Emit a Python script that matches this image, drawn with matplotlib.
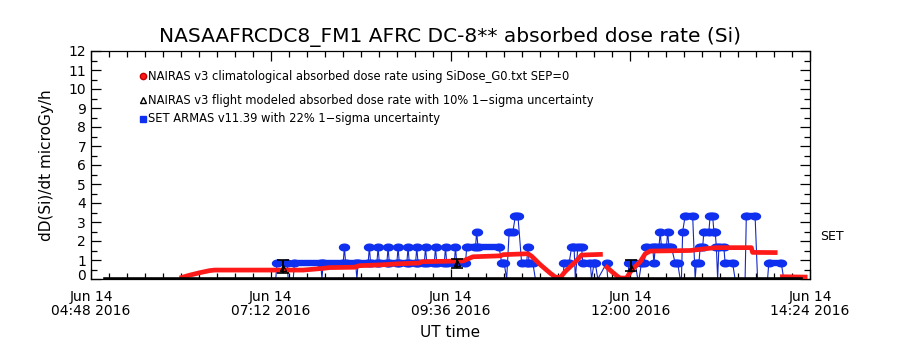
import matplotlib
matplotlib.use("Agg")
import matplotlib.pyplot as plt
import matplotlib.dates as mdates
import matplotlib.ticker as mticker
import matplotlib.transforms as mtransforms
import numpy as np
import pandas as pd

DAY = "2016-06-14 "
nan = np.nan

# ---------------- data ----------------
title = "NASAAFRCDC8_FM1 AFRC DC-8** absorbed dose rate (Si)"
legend_labels = [
    "NAIRAS v3 climatological absorbed dose rate using SiDose_G0.txt SEP=0",
    "NAIRAS v3 flight modeled absorbed dose rate with 10% 1\u2212sigma uncertainty",
    "SET ARMAS v11.39 with 22% 1\u2212sigma uncertainty",
]
xtick_times = ["04:48", "07:12", "09:36", "12:00", "14:24"]
y_ticks = list(range(0, 13))

# NAIRAS climatological (red)
red_times = ["05:59", "06:07", "06:15", "06:23", "06:27", "07:38", "07:54", "07:59",
             "08:19", "08:23", "08:42", "08:54", "09:11", "09:13", "09:46", "09:54",
             "10:16", "10:18", "10:38", "10:41", "10:48", "10:56", "11:00", "11:04",
             "11:08", "11:16", "11:21", "11:38", "11:39", "11:40", "11:45", "11:50",
             "11:52", "11:57", "12:01", "12:08", "12:12", "12:16", "12:48", "13:01",
             "13:09", "13:37", "13:38", "13:58", "13:59", "14:00", "14:22"]
red_vals = [0.05, 0.2, 0.33, 0.44, 0.47, 0.47, 0.56, 0.6,
            0.62, 0.7, 0.75, 0.8, 0.84, 0.91, 0.95, 1.17,
            1.22, 1.28, 1.33, 1.2, 0.75, 0.3, 0.1, 0.08,
            0.4, 0.9, 1.26, 1.3, nan, 0.7, 0.4, 0.13,
            0.05, 0.05, 0.47, 0.91, 1.33, 1.47, 1.5, 1.6,
            1.65, 1.65, 1.4, 1.39, nan, 0.12, 0.1]

# NAIRAS flight modeled (black) baseline and points with uncertainty bars
black_times = ["04:59", "14:17"]
black_vals = [0.0, 0.0]
err_times = ["07:22", "09:41", "12:01"]
err_vals = [0.6, 0.85, 0.6]
err_low = [0.33, 0.6, 0.4]
err_high = [1.0, 1.05, 1.0]

# SET ARMAS (blue)
blue_times = [
    "07:10", "07:16", "07:17", "07:25", "07:26", "07:30", "07:31", "07:52", "07:53", "07:54",
    "08:10", "08:11", "08:12", "08:20", "08:21", "08:22",
    "08:30", "08:31", "08:32", "08:37", "08:38", "08:39", "08:45", "08:46", "08:47",
    "08:53", "08:54", "08:55", "09:01", "09:02", "09:03", "09:08", "09:09", "09:10",
    "09:15", "09:16", "09:17", "09:23", "09:24", "09:25", "09:31", "09:32", "09:33",
    "09:39", "09:40", "09:41", "09:48", "09:49", "09:56", "09:57", "09:58", "10:15",
    "10:17", "10:19", "10:21", "10:23", "10:26", "10:28", "10:30", "10:33", "10:37",
    "10:38", "10:39", "10:42", "10:44",
    "11:06", "11:07", "11:11", "11:13", "11:15", "11:16", "11:18", "11:21", "11:22",
    "11:28", "11:29", "11:31", "11:32", "11:34", "11:41", "11:42",
    "11:58", "11:59", "12:04", "12:06", "12:07", "12:09", "12:11", "12:13", "12:18",
    "12:19", "12:20", "12:23", "12:24", "12:25", "12:29", "12:30", "12:31", "12:33",
    "12:36", "12:38", "12:40", "12:41", "12:42", "12:44", "12:50", "12:52", "12:53",
    "12:55", "12:56", "12:58", "12:59", "13:03", "13:04", "13:06", "13:07", "13:08",
    "13:09", "13:10", "13:11", "13:15", "13:16", "13:22", "13:24",
    "13:32", "13:33", "13:40", "13:42", "13:50", "13:51", "14:01", "14:03", "14:20"]
blue_vals = [
    0, 0, 0.83, 0.83, 0, 0, 0.83, 0.83, 0, 0.83,
    0.83, 1.67, 0.83, 0.83, 0, 0.83,
    0.83, 1.67, 0.83, 0.83, 1.67, 0.83, 0.83, 1.67, 0.83,
    0.83, 1.67, 0.83, 0.83, 1.67, 0.83, 0.83, 1.67, 0.83,
    0.83, 1.67, 0.83, 0.83, 1.67, 0.83, 0.83, 1.67, 0.83,
    0.83, 1.67, 0.83, 0.83, 1.67, 1.67, 2.5, 1.67, 1.67,
    0.83, 0.83, 0, 2.5, 2.5, 3.33, 3.33, 0.83, 0.83,
    1.67, 0.83, 0.83, 0,
    0, 0.83, 0.83, 1.67, 1.67, 0, 1.67, 1.67, 0.83,
    0.83, 0, 0.83, 0.83, 0, 0.83, 0,
    0, 0.83, 0.83, 0, 0, 0.83, 0.83, 1.67, 1.67,
    0.83, 1.67, 1.67, 2.5, 1.67, 1.67, 2.5, 1.67, 1.67,
    0.83, 0.83, 0, 0, 2.5, 3.33, 3.33, 0, 0.83,
    0.83, 1.67, 1.67, 2.5, 2.5, 3.33, 3.33, 2.5, 2.5,
    1.67, 0, 1.67, 1.67, 0.83, 0.83, 0,
    0, 3.33, 3.33, 0, 0, 0.83, 0.83, 0, 0]


def to_dt(lst):
    return pd.to_datetime([DAY + s for s in lst])


red_t = to_dt(red_times)
blue_t = to_dt(blue_times)
black_t = to_dt(black_times)
err_t = to_dt(err_times)
xt = to_dt(xtick_times)

RED = "#ff1a1a"
BLUE = "#1030f0"
BLUE_LINE = "#1428c8"

fig = plt.figure(figsize=(9, 3.5), dpi=100)
ax = fig.add_axes([91 / 900, 1 - 279 / 350, 719 / 900, 228 / 350])

# blue: thin connecting line, thick runs, markers at non-zero points
ax.plot(blue_t, blue_vals, color=BLUE_LINE, lw=0.8, zorder=3)
bv = np.array(blue_vals)
for i in range(len(bv) - 1):
    if bv[i] > 0 and bv[i] == bv[i + 1]:
        ax.plot([blue_t[i], blue_t[i + 1]], [bv[i], bv[i]], color=BLUE, lw=4.6,
                solid_capstyle="round", zorder=3)
theta = np.linspace(0, 2 * np.pi, 40)
ellipse = np.column_stack([1.5 * np.cos(theta), np.sin(theta)])
nz = bv > 0
ax.plot(blue_t[nz], bv[nz], ls="none", marker=ellipse, ms=7.2, color=BLUE,
        mec=BLUE, zorder=3)

# red climatological band
ax.plot(red_t, red_vals, color=RED, lw=3.4, solid_capstyle="butt", zorder=4)

# black flight-modeled
ax.plot(black_t, black_vals, color="black", lw=2.6, zorder=5)
ev = np.array(err_vals)
yerr = np.vstack([ev - np.array(err_low), np.array(err_high) - ev])
ax.errorbar(err_t, ev, yerr=yerr, fmt="^", ms=4, mfc="none", mec="black",
            ecolor="black", elinewidth=1.4, capsize=4, capthick=1.2, zorder=6)

# axes
ax.set_xlim(xt[0], xt[-1])
ax.set_ylim(0, 12)
ax.set_xticks(xt)
ax.xaxis.set_major_formatter(mdates.DateFormatter("%b %d\n%H:%M %Y"))
ax.xaxis.set_minor_locator(mticker.MultipleLocator(0.01))
ax.set_yticks(y_ticks)
ax.yaxis.set_minor_locator(mticker.MultipleLocator(0.5))
ax.tick_params(which="both", direction="in", top=True, right=True, width=0.9,
               color="black", labelsize=10)
ax.tick_params(which="major", length=7)
ax.tick_params(which="minor", length=4)
ax.tick_params(axis="x", pad=8)
for lbl in ax.get_xticklabels():
    lbl.set_linespacing(0.95)
# lift the "0" label a little, as in the reference
lbl0 = ax.yaxis.get_major_ticks()[0].label1
lbl0.set_transform(lbl0.get_transform() +
                   mtransforms.ScaledTranslation(0, 4 / 100, fig.dpi_scale_trans))
for s in ax.spines.values():
    s.set_linewidth(0.9)

ax.set_ylabel("dD(Si)/dt microGy/h", fontsize=11, labelpad=10)
ax.set_xlabel("UT time", fontsize=11, labelpad=5)
fig.text(0.5, 1 - 37 / 350, title, ha="center", va="center", fontsize=14.5)
fig.text(820 / 900, 1 - 237 / 350, "SET", ha="left", va="center", fontsize=9)

# legend
leg_y = [0.890, 0.785, 0.702]
leg_x = 0.0723
ax.plot([leg_x], [leg_y[0]], transform=ax.transAxes, marker="o", ms=4.5,
        color=RED, mec="#c00000", ls="none", clip_on=False)
ax.plot([leg_x], [leg_y[1]], transform=ax.transAxes, marker="^", ms=5,
        mfc="none", mec="black", ls="none", clip_on=False)
ax.plot([leg_x], [leg_y[2]], transform=ax.transAxes, marker="s", ms=4.5,
        color=BLUE, ls="none", clip_on=False)
for yy, lab in zip(leg_y, legend_labels):
    ax.text(leg_x + 0.007, yy, lab, transform=ax.transAxes, ha="left",
            va="center", fontsize=8.3)

fig.savefig("out.png", dpi=100)
